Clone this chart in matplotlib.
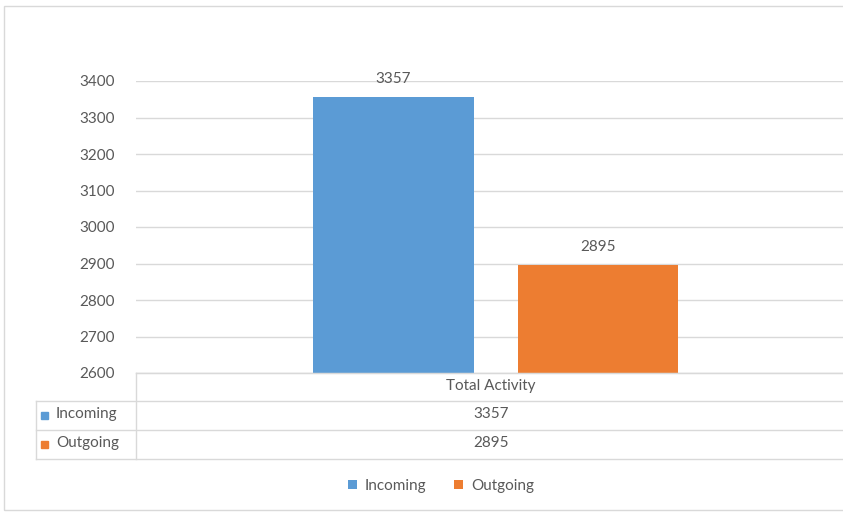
import matplotlib
matplotlib.use("Agg")
import matplotlib.pyplot as plt
from matplotlib.patches import Patch, Rectangle
from matplotlib.lines import Line2D

# data
category = "Total Activity"
series = ["Incoming", "Outgoing"]
values = [3357, 2895]
colors = ["#5B9BD5", "#ED7D31"]
y_ticks = [2600, 2700, 2800, 2900, 3000, 3100, 3200, 3300, 3400]

W, H = 843, 512
plt.rcParams["font.family"] = ["Lato", "DejaVu Sans"]
text_color = "#595959"
grid_color = "#D9D9D9"
fs = 11

fig = plt.figure(figsize=(W / 100, H / 100), dpi=100)


def fx(x):
    return x / W


def fy(y):
    return 1 - y / H


# outer chart border
fig.patches.append(Rectangle((fx(4), fy(510)), fx(900) - fx(4), fy(6) - fy(510),
                             transform=fig.transFigure, fill=False,
                             edgecolor="#D9D9D9", linewidth=1))

# plot area (extends a bit past the right edge, as in the cropped original)
left, right, top, bottom = 136, 856, 81, 373
ax = fig.add_axes([fx(left), fy(bottom), fx(right) - fx(left), fy(top) - fy(bottom)])
ax.set_xlim(-1, 1)
ax.set_ylim(y_ticks[0], y_ticks[-1])
ax.set_yticks(y_ticks)
ax.set_xticks([])
ax.grid(axis="y", color=grid_color, linewidth=1)
ax.set_axisbelow(True)
for s in ["top", "right", "left"]:
    ax.spines[s].set_visible(False)
ax.spines["bottom"].set_color(grid_color)
ax.tick_params(axis="y", length=0, pad=15, labelsize=fs, labelcolor=text_color)

offsets = [-0.285, 0.283]
bars = ax.bar(offsets, values, width=0.445, color=colors, zorder=2)
for b, v in zip(bars, values):
    ax.text(b.get_x() + b.get_width() / 2, v + 30, str(v), ha="center", va="bottom",
            fontsize=fs, color=text_color, clip_on=False)

# data table below the plot
table_lines = [
    ((left, 843), (373, 373)),
    ((36, 843), (401, 401)),
    ((36, 843), (430, 430)),
    ((36, 843), (459, 459)),
    ((136, 136), (373, 459)),
    ((36, 36), (401, 459)),
]
for xs, ys in table_lines:
    fig.add_artist(Line2D([fx(x) for x in xs], [fy(y) for y in ys],
                          transform=fig.transFigure, color=grid_color, linewidth=1))

col_x = 491
fig.text(fx(col_x), fy(386), category, ha="center", va="center",
         fontsize=fs, color=text_color)
row_y = [414, 443]
for name, v, c, y in zip(series, values, colors, row_y):
    fig.patches.append(Rectangle((fx(41), fy(y + 4.5)), fx(7), fy(0) - fy(7),
                                 transform=fig.transFigure, color=c))
    fig.text(fx(56), fy(y), name, ha="left", va="center", fontsize=fs, color=text_color)
    fig.text(fx(col_x), fy(y), str(v), ha="center", va="center",
             fontsize=fs, color=text_color)

# legend
handles = [Patch(facecolor=c, edgecolor="none") for c in colors]
fig.legend(handles, series, loc="center", bbox_to_anchor=(fx(441), fy(486)), ncol=2,
           frameon=False, handlelength=0.6, handleheight=0.6, handletextpad=0.5,
           columnspacing=1.8, fontsize=fs, labelcolor=text_color)

fig.savefig("out.png", dpi=100, facecolor="white")
